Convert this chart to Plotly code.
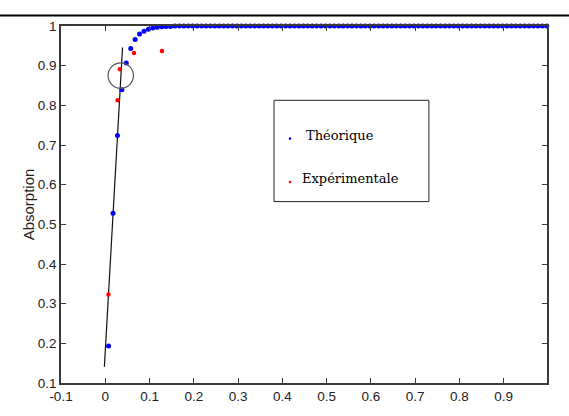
import plotly.graph_objects as go

# Theoretical absorption curve (sampled every 0.01)
theory_x = [
    0.0075, 0.0175, 0.0275, 0.0375, 0.0475, 0.0575, 0.0675, 0.0775, 0.0875, 0.0975,
    0.1075, 0.1175, 0.1275, 0.1375, 0.1475, 0.1575, 0.1675, 0.1775, 0.1875, 0.1975,
    0.2075, 0.2175, 0.2275, 0.2375, 0.2475, 0.2575, 0.2675, 0.2775, 0.2875, 0.2975,
    0.3075, 0.3175, 0.3275, 0.3375, 0.3475, 0.3575, 0.3675, 0.3775, 0.3875, 0.3975,
    0.4075, 0.4175, 0.4275, 0.4375, 0.4475, 0.4575, 0.4675, 0.4775, 0.4875, 0.4975,
    0.5075, 0.5175, 0.5275, 0.5375, 0.5475, 0.5575, 0.5675, 0.5775, 0.5875, 0.5975,
    0.6075, 0.6175, 0.6275, 0.6375, 0.6475, 0.6575, 0.6675, 0.6775, 0.6875, 0.6975,
    0.7075, 0.7175, 0.7275, 0.7375, 0.7475, 0.7575, 0.7675, 0.7775, 0.7875, 0.7975,
    0.8075, 0.8175, 0.8275, 0.8375, 0.8475, 0.8575, 0.8675, 0.8775, 0.8875, 0.8975,
    0.9075, 0.9175, 0.9275, 0.9375, 0.9475, 0.9575, 0.9675, 0.9775, 0.9875, 0.9975,
]
theory_y = [
    0.193, 0.528, 0.724, 0.839, 0.907, 0.943, 0.966, 0.980, 0.987, 0.992,
    0.995, 0.997, 0.998, 0.999, 0.999, 1.000, 1.000, 1.000, 1.000, 1.000,
    1.000, 1.000, 1.000, 1.000, 1.000, 1.000, 1.000, 1.000, 1.000, 1.000,
    1.000, 1.000, 1.000, 1.000, 1.000, 1.000, 1.000, 1.000, 1.000, 1.000,
    1.000, 1.000, 1.000, 1.000, 1.000, 1.000, 1.000, 1.000, 1.000, 1.000,
    1.000, 1.000, 1.000, 1.000, 1.000, 1.000, 1.000, 1.000, 1.000, 1.000,
    1.000, 1.000, 1.000, 1.000, 1.000, 1.000, 1.000, 1.000, 1.000, 1.000,
    1.000, 1.000, 1.000, 1.000, 1.000, 1.000, 1.000, 1.000, 1.000, 1.000,
    1.000, 1.000, 1.000, 1.000, 1.000, 1.000, 1.000, 1.000, 1.000, 1.000,
    1.000, 1.000, 1.000, 1.000, 1.000, 1.000, 1.000, 1.000, 1.000, 1.000,
]

# Measured points
exp_x = [0.0072, 0.028, 0.033, 0.065, 0.128]
exp_y = [0.323, 0.813, 0.891, 0.932, 0.937]

# Linear fit of the initial rise
fit_x = [-0.002, 0.039]
fit_y = [0.141, 0.946]

# Highlighted point (circle centre)
mark_x, mark_y = 0.035, 0.875

x_ticks = [-0.1, 0, 0.1, 0.2, 0.3, 0.4, 0.5, 0.6, 0.7, 0.8, 0.9]
x_labels = ["-0.1", "0", "0.1", "0.2", "0.3", "0.4", "0.5", "0.6", "0.7", "0.8", "0.9"]
y_ticks = [0.1, 0.2, 0.3, 0.4, 0.5, 0.6, 0.7, 0.8, 0.9, 1.0]
y_labels = ["0.1", "0.2", "0.3", "0.4", "0.5", "0.6", "0.7", "0.8", "0.9", "1"]

BLUE = "#0000ff"
RED = "#ff0000"
AXIS = "#3a3a3a"
SERIF = "DejaVu Serif"

fig = go.Figure()
fig.add_trace(go.Scatter(x=fit_x, y=fit_y, mode="lines",
                         line=dict(color="#111111", width=1.2), showlegend=False))
fig.add_trace(go.Scatter(x=theory_x, y=theory_y, mode="markers", name="Théorique",
                         marker=dict(color=BLUE, size=5), cliponaxis=False, showlegend=False))
fig.add_trace(go.Scatter(x=exp_x, y=exp_y, mode="markers", name="Expérimentale",
                         marker=dict(color=RED, size=4.5), cliponaxis=False, showlegend=False))

shapes = [
    # circle around the highlighted point
    dict(type="circle", xref="x", yref="y", xsizemode="pixel", ysizemode="pixel",
         xanchor=mark_x, yanchor=mark_y, x0=-12.7, x1=12.7, y0=-12.7, y1=12.7,
         line=dict(color="#555555", width=1.2)),
    # legend frame
    dict(type="rect", xref="paper", yref="paper", x0=0.4383, x1=0.757, y0=0.5081, y1=0.7919,
         line=dict(color="#222222", width=1), fillcolor="white", layer="above"),
    # legend markers
    dict(type="circle", xref="paper", yref="paper", xsizemode="pixel", ysizemode="pixel",
         xanchor=0.4712, yanchor=0.6846, x0=-1.3, x1=1.3, y0=-1.3, y1=1.3,
         fillcolor=BLUE, line=dict(width=0), layer="above"),
    dict(type="circle", xref="paper", yref="paper", xsizemode="pixel", ysizemode="pixel",
         xanchor=0.4712, yanchor=0.563, x0=-1.3, x1=1.3, y0=-1.3, y1=1.3,
         fillcolor=RED, line=dict(width=0), layer="above"),
    # page rule above the chart
    dict(type="line", xref="paper", yref="paper", x0=-61 / 486, x1=508 / 486,
         y0=1 + 11 / 370, y1=1 + 11 / 370, line=dict(color="black", width=2)),
]

annotations = [
    dict(text="Théorique", xref="paper", yref="paper", x=0.5, y=0.6919,
         xanchor="left", yanchor="middle", showarrow=False,
         font=dict(family=SERIF, size=13, color="black")),
    dict(text="Expérimentale", xref="paper", yref="paper", x=0.4918, y=0.5722,
         xanchor="left", yanchor="middle", showarrow=False,
         font=dict(family=SERIF, size=13, color="black")),
]

fig.update_layout(
    width=569, height=416,
    margin=dict(l=61, r=22, t=26, b=20),
    paper_bgcolor="white", plot_bgcolor="white",
    shapes=shapes, annotations=annotations,
    font=dict(family="Liberation Sans", size=13.5, color="#222222"),
)
fig.update_xaxes(range=[-0.1, 0.998], tickvals=x_ticks, ticktext=x_labels,
                 ticks="inside", ticklen=5, tickcolor=AXIS, showgrid=False, zeroline=False,
                 showline=True, linecolor=AXIS, linewidth=1.5, mirror="ticks")
fig.update_yaxes(range=[0.1, 1.0], tickvals=y_ticks, ticktext=y_labels,
                 ticks="inside", ticklen=5, tickcolor=AXIS, showgrid=False, zeroline=False,
                 showline=True, linecolor=AXIS, linewidth=1.5, mirror="ticks",
                 title=dict(text="Absorption", font=dict(size=15), standoff=0))

fig.write_html("out.html")
